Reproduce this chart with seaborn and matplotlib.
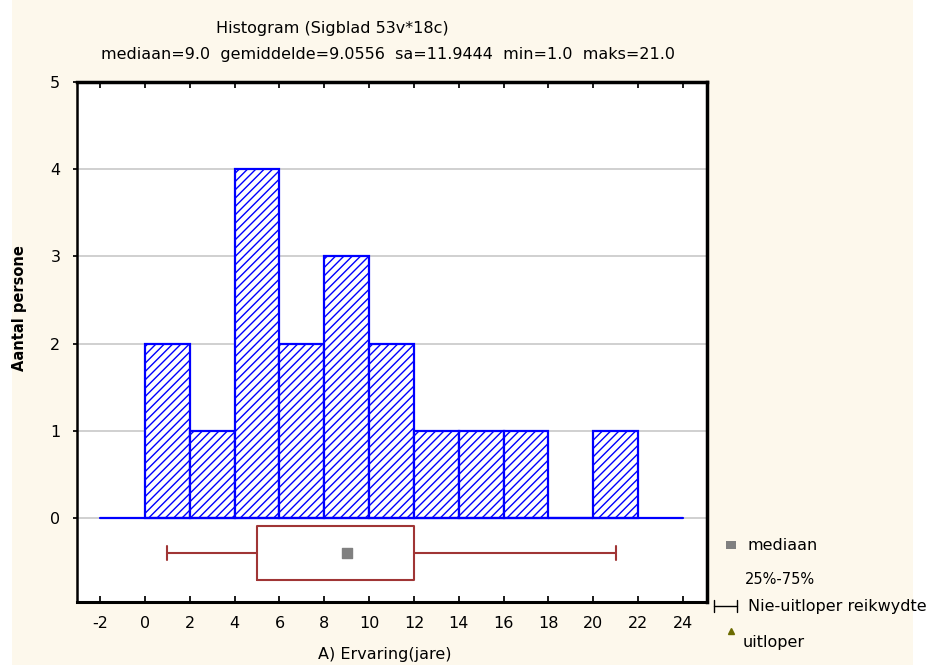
import numpy as np
import matplotlib
matplotlib.use("Agg")
import matplotlib.pyplot as plt
import matplotlib.patches as mpatches
import seaborn as sns

# histogram data (bin width 2)
bin_edges = [0, 2, 4, 6, 8, 10, 12, 14, 16, 18, 20, 22]
counts = [2, 1, 4, 2, 3, 2, 1, 1, 1, 0, 1]

# box plot summary
box_min, box_q1, box_med, box_q3, box_max = 1.0, 5.0, 9.0, 12.0, 21.0

x_ticks = list(range(-2, 25, 2))
y_ticks = [0, 1, 2, 3, 4, 5]

title = "Histogram (Sigblad 53v*18c)"
subtitle = "mediaan=9.0  gemiddelde=9.0556  sa=11.9444  min=1.0  maks=21.0"
x_label = "A) Ervaring(jare)"
y_label = "Aantal persone"

sns.set_theme(style="white")
plt.rcParams["font.family"] = ["DejaVu Sans"]
plt.rcParams["text.color"] = "black"
plt.rcParams["xtick.labelcolor"] = "black"
plt.rcParams["ytick.labelcolor"] = "black"
plt.rcParams["hatch.linewidth"] = 1.0

cream = "#fdf8ec"
blue = "#0000ff"
red = "#a03535"

fig = plt.figure(figsize=(9.37, 6.65), dpi=100)
fig.patch.set_facecolor("white")
fig.add_artist(mpatches.Rectangle((12 / 937, 0), (913 - 12) / 937, 1,
                                  transform=fig.transFigure, facecolor=cream,
                                  edgecolor="none", zorder=-10))

ax = fig.add_axes([77 / 937, 1 - 602 / 665, (707 - 77) / 937, (602 - 82) / 665])
ax.set_facecolor("white")

centers = [(a + b) / 2 for a, b in zip(bin_edges[:-1], bin_edges[1:])]
sns.histplot(x=centers, weights=counts, bins=bin_edges, ax=ax,
             color="white", edgecolor=blue, linewidth=1.6,
             hatch="////", alpha=1.0, zorder=3)
for p in ax.patches:
    p.set_facecolor("white")
    p.set_edgecolor(blue)

# gridlines and baseline
for yv in y_ticks[:-1]:
    ax.axhline(yv, color="#c8c8c8", lw=1.2, zorder=1)
ax.plot([-2, 24], [0, 0], color=blue, lw=1.6, zorder=4)

# box plot below the histogram
stats = [dict(med=box_med, q1=box_q1, q3=box_q3, whislo=box_min, whishi=box_max,
              fliers=[])]
ax.bxp(stats, positions=[-0.4], widths=0.62, capwidths=0.16, vert=False,
       showcaps=True,
       boxprops=dict(color=red, lw=1.5), whiskerprops=dict(color=red, lw=1.5),
       capprops=dict(color=red, lw=1.5), medianprops=dict(color="none"),
       manage_ticks=False, zorder=5)
ax.scatter([box_med], [-0.4], marker="s", s=45, color="#808080", zorder=6)

ax.set_xlim(-3.03, 25.07)
ax.set_ylim(-0.96, 5)
ax.set_xticks(x_ticks)
ax.set_yticks(y_ticks)
ax.set_xticklabels([str(t) for t in x_ticks], fontsize=11.5)
ax.set_yticklabels([str(t) for t in y_ticks], fontsize=11.5)
ax.tick_params(axis="x", direction="in", length=4, top=True, bottom=True, pad=10, color="black")
ax.tick_params(axis="y", direction="out", length=3, left=True, right=False, pad=9, color="black")
for s in ax.spines.values():
    s.set_visible(True)
    s.set_color("black")
    s.set_linewidth(1.8)
ax.spines["top"].set_linewidth(2.5)
ax.spines["right"].set_linewidth(2.5)
ax.spines["bottom"].set_linewidth(2.2)
ax.set_xlabel("")
ax.set_ylabel("")

fig.text(332 / 937, 1 - 28 / 665, title, ha="center", va="center", fontsize=11.5)
fig.text(388 / 937, 1 - 55 / 665, subtitle, ha="center", va="center", fontsize=11.5)
fig.text(385 / 937, 1 - 655 / 665, x_label, ha="center", va="center", fontsize=11.5)
fig.text(20 / 937, 1 - 308 / 665, y_label, ha="center", va="center",
         fontsize=10.5, fontweight="bold", rotation=90)

# legend drawn outside the plot
fig.text(748 / 937, 1 - 545 / 665, "mediaan", ha="left", va="center", fontsize=11.5)
fig.add_artist(mpatches.Rectangle((726 / 937, 1 - 549 / 665), 10 / 937, 8 / 665,
                                  transform=fig.transFigure, facecolor="#808080",
                                  edgecolor="none"))
fig.text(745 / 937, 1 - 579 / 665, "25%-75%", ha="left", va="center", fontsize=10.5)
fig.add_artist(plt.Line2D([714 / 937, 737 / 937], [1 - 606 / 665, 1 - 606 / 665],
                          transform=fig.transFigure, color="black", lw=1))
for xx in (714, 737):
    fig.add_artist(plt.Line2D([xx / 937, xx / 937], [1 - 600 / 665, 1 - 612 / 665],
                              transform=fig.transFigure, color="black", lw=1))
fig.text(748 / 937, 1 - 606 / 665, "Nie-uitloper reikwydte", ha="left", va="center",
         fontsize=11.5)
fig.add_artist(plt.Line2D([731 / 937], [1 - 631 / 665], transform=fig.transFigure,
                          marker="^", markersize=5, color="#6b6b00", lw=0))
fig.text(743 / 937, 1 - 643 / 665, "uitloper", ha="left", va="center", fontsize=11.5)

plt.savefig("out.png", dpi=100, facecolor=fig.get_facecolor())
